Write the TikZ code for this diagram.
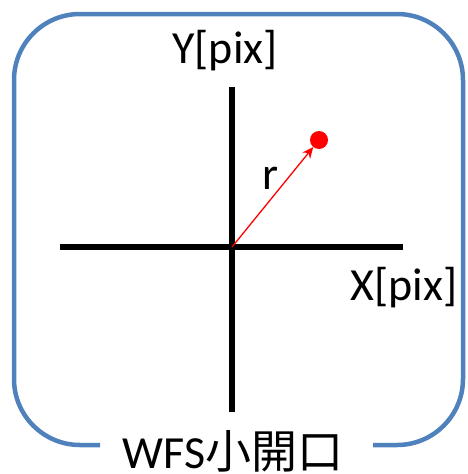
\documentclass[tikz,border=0pt]{standalone}
\usepackage{fontspec}
\setmainfont{Carlito}
\newfontfamily\cjk{Noto Sans CJK JP}
\usetikzlibrary{arrows.meta,positioning}
\definecolor{frameBlue}{RGB}{79,129,189}

\begin{document}
\begin{tikzpicture}[x=1pt,y=-1pt,
  axisline/.style={line width=6.5pt},
  lbl/.style={inner sep=0pt,font=\fontsize{46}{54}\selectfont},
]
\useasboundingbox (0,0) rectangle (468,474);
% frame with gap for the title
\draw[frameBlue,line width=4.5pt,rounded corners=66pt]
  (100,445) -- (14,445) -- (14,14) -- (463,14) -- (463,445) -- (373,445);
\node[lbl] (title) at (233,451) {WFS{\cjk 小開口}};
% axes
\coordinate (xl) at (60,247);
\coordinate (xr) at (403,247);
\coordinate (yt) at (232,87);
\coordinate (yb) at (232,412);
\coordinate (origin) at (232,247);
\draw[axisline] (xl) -- (xr);
\draw[axisline] (yt) -- (yb);
\node[lbl] (ylabel) at (225,51) {Y[pix]};
\node[lbl] (xlabel) at (404,288) {X[pix]};
% point and radius
\node[circle,fill=red,minimum size=18pt,inner sep=0pt] (pt) at (319,140) {};
\draw[red,line width=1.3pt,-{Stealth[length=11pt,width=10pt]}] (origin) -- (pt);
\node[lbl] (rlabel) at (271,178) {r};
\end{tikzpicture}
\end{document}
